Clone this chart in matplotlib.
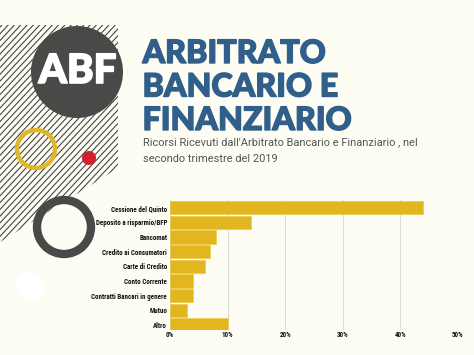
import matplotlib
matplotlib.use("Agg")
import matplotlib.pyplot as plt
from matplotlib.patches import Circle, Polygon
from matplotlib.ticker import FuncFormatter
from matplotlib import font_manager as fm
import matplotlib.patheffects as pe
import numpy as np

categories = ["Cessione del Quinto", "Deposito a risparmio/BFP", "Bancomat",
              "Credito ai Consumatori", "Carte di Credito", "Conto Corrente",
              "Contratti Bancari in genere", "Mutuo", "Altro"]
values = [44, 14, 8, 7, 6, 4, 4, 3, 10]
xticks = [0, 10, 20, 30, 40, 50]

names = {f.name for f in fm.fontManager.ttflist}
cond = None
for n in ["Liberation Sans Narrow", "Roboto Condensed", "Open Sans Condensed",
          "DejaVu Sans Condensed", "Noto Sans Condensed"]:
    if n in names:
        cond = n
        break
lab_stretch = "normal"
if cond is None:
    cond = "DejaVu Sans"
    lab_stretch = "condensed"
    lab_size = 4.4
else:
    lab_size = 5.05

BG = "#fdfdf3"
W, H = 474, 355
fig = plt.figure(figsize=(W / 100, H / 100), dpi=100, facecolor=BG)

deco = fig.add_axes([0, 0, 1, 1], facecolor=BG)
deco.set_xlim(0, W)
deco.set_ylim(H, 0)
deco.axis("off")

poly = Polygon([(0, 25), (118, 25), (118, 168), (0, 242)], closed=True,
               facecolor="none", edgecolor="none")
deco.add_patch(poly)
for x0 in np.arange(-250, 130, 6.3):
    ln, = deco.plot([x0, x0 + 250], [268, 0], color="#3c3c3c", lw=0.75)
    ln.set_clip_path(poly)

deco.add_patch(Circle((77, 72), 46, facecolor="#4a4948", edgecolor="none", zorder=3))
deco.text(77.5, 83, "ABF", color="white", fontsize=29, fontweight="black",
          family="Lato", ha="center", va="baseline", zorder=4,
          path_effects=[pe.withStroke(linewidth=1.2, foreground="white")])
deco.add_patch(Circle((36, 149), 19, facecolor="none", edgecolor="#e0b72a", lw=3.2, zorder=3))
deco.add_patch(Circle((89, 158), 7, facecolor="#d31f2f", edgecolor="none", zorder=3))
deco.add_patch(Circle((64, 227), 27, facecolor="none", edgecolor="#4a4948", lw=6.0, zorder=3))
deco.add_patch(Circle((30, 286), 14, facecolor="white", edgecolor="none", zorder=3))

title_color = "#2f5f8a"
for i, line in enumerate(["ARBITRATO", "BANCARIO E", "FINANZIARIO"]):
    deco.text(142.5, 63 + i * 33.5, line, color=title_color, fontsize=23.2,
              fontweight="black", family="Lato", ha="left", va="baseline",
              path_effects=[pe.withStroke(linewidth=1.0, foreground=title_color)])
deco.text(143, 145, "Ricorsi Ricevuti dall'Arbitrato Bancario e Finanziario , nel",
          color="#555555", fontsize=7.9, family="Roboto", fontweight="normal",
          ha="left", va="baseline")
deco.text(143, 162, "secondo trimestre del 2019", color="#555555", fontsize=7.9,
          family="Roboto", fontweight="normal", ha="left", va="baseline")

left, right = 170 / W, 458 / W
top_px, bot_px = 200.3, 330.0
ax = fig.add_axes([left, 1 - bot_px / H, right - left, (bot_px - top_px) / H])
ax.patch.set_alpha(0)
y = np.arange(len(categories))
ax.barh(y, values, height=0.9, color="#e2b61f", edgecolor="#ebc640", lw=0.4, zorder=3)
ax.set_xlim(0, 50)
ax.set_ylim(8 + (bot_px - 325) / 14.7, -0.5)
ax.set_yticks(y)
ax.set_yticklabels(categories)
ax.set_xticks(xticks)
ax.xaxis.set_major_formatter(FuncFormatter(lambda v, p: f"{int(v)}%"))
ax.grid(axis="x", color="#dddddd", lw=0.8, zorder=0)
ax.grid(axis="y", visible=False)
for s in ax.spines.values():
    s.set_visible(False)
ax.tick_params(length=0, pad=2)
for lab in ax.get_yticklabels() + ax.get_xticklabels():
    lab.set_fontsize(lab_size)
    lab.set_fontweight("bold")
    lab.set_family([cond, "DejaVu Sans"])
    lab.set_fontstretch(lab_stretch)
    lab.set_color("#111111")
ax.tick_params(axis="x", pad=1)

fig.savefig("out.png", dpi=100, facecolor=BG)
